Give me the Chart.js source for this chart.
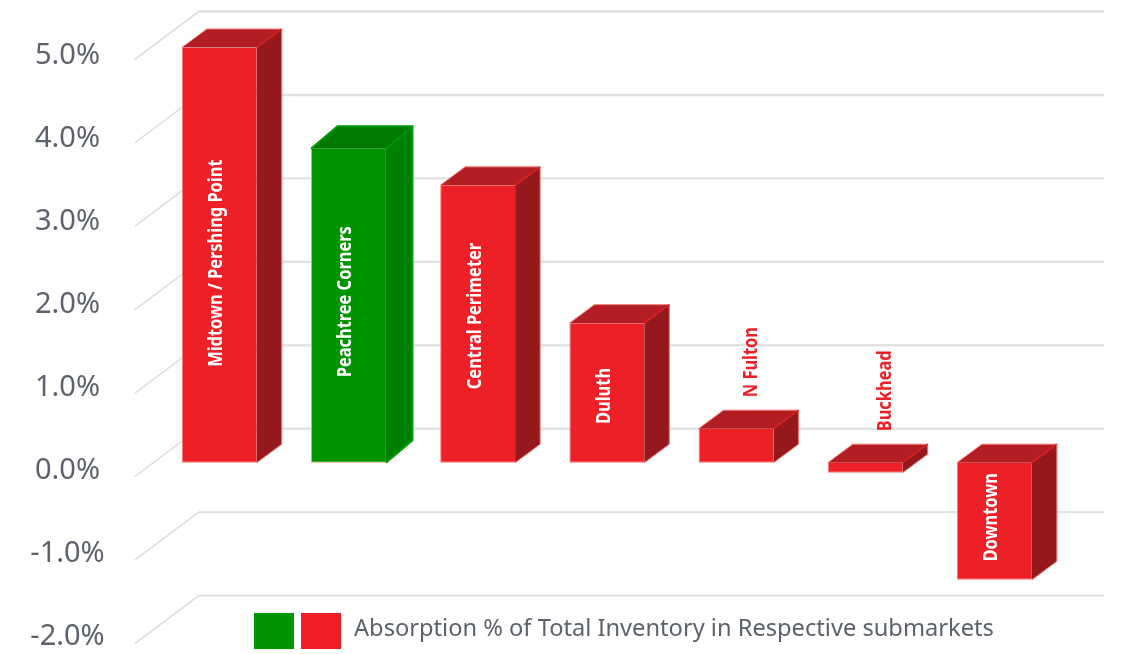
<!DOCTYPE html>
<html>
<head>
<meta charset="utf-8">
<title>Absorption by submarket</title>
<script src="https://cdn.jsdelivr.net/npm/chart.js@4/dist/chart.umd.min.js"></script>
<style>
  html, body { margin: 0; padding: 0; background: #fff; }
  canvas { display: block; }
</style>
</head>
<body>
<canvas id="absorption-chart" width="1121" height="654"></canvas>
<script>
/* ===== DATA ===== */
const submarkets = ['Midtown / Pershing Point', 'Peachtree Corners', 'Central Perimeter', 'Duluth', 'N Fulton', 'Buckhead', 'Downtown'];
const absorption = [5.0, 3.78, 3.34, 1.68, 0.41, -0.12, -1.41];
const highlighted = ['Peachtree Corners'];
const legendText = 'Absorption % of Total Inventory in Respective submarkets';

/* ===== LOOK ===== */
// depth is how far the top and side faces reach back from the front face
const RED = { front: '#ed2027', top: '#b21e24', side: '#95191c', edge: '#f47a72', ridge: '#dd2022', dx: 25, dy: 18.5 };
const GREEN = { front: '#009400', top: '#007a00', side: '#008000', edge: '#e8a070', ridge: '#009a00', rim: '#009a00', dx: 26.5, dy: 22.5 };
const GRID = '#e2e2e2';
const TEXT = '#5c616b';
const FONT = '"Noto Sans", sans-serif';

const paletteFor = i => highlighted.includes(submarkets[i]) ? GREEN : RED;

/* ===== BACK WALL GRID ===== */
const wallGrid = {
  id: 'wallGrid',
  beforeDatasetsDraw(chart) {
    const { ctx, chartArea, scales: { y } } = chart;
    const x0 = chartArea.left - 20, x1 = chartArea.left + 44, x2 = chartArea.right + 45;
    ctx.save();
    y.ticks.forEach(t => {
      // the wall sits slightly further apart than the bar plane
      const py = chartArea.top + (y.getPixelForValue(t.value) - chartArea.top) * 1.0048;
      ctx.strokeStyle = '#dedede';
      ctx.lineWidth = 1.6;
      ctx.beginPath();
      ctx.moveTo(x0, py + 12);
      ctx.lineTo(x1, py - 36);
      ctx.stroke();
      ctx.strokeStyle = GRID;
      ctx.lineWidth = 2.4;
      ctx.beginPath();
      ctx.moveTo(x1, py - 36);
      ctx.lineTo(x2, py - 36);
      ctx.stroke();
    });
    ctx.restore();
  }
};

/* ===== 3D FACES ===== */
const barFaces = {
  id: 'barFaces',
  afterDatasetsDraw(chart) {
    const { ctx } = chart;
    ctx.save();
    chart.getDatasetMeta(0).data.forEach((bar, i) => {
      const p = bar.getProps(['x', 'y', 'base', 'width'], true);
      const c = paletteFor(i);
      const l = p.x - p.width / 2, r = p.x + p.width / 2;
      const t = Math.min(p.y, p.base), b = Math.max(p.y, p.base);

      // top face
      ctx.fillStyle = c.top;
      ctx.beginPath();
      ctx.moveTo(l, t);
      ctx.lineTo(l + c.dx, t - c.dy);
      ctx.lineTo(r + c.dx, t - c.dy);
      ctx.lineTo(r, t);
      ctx.closePath();
      ctx.fill();

      // side face
      ctx.fillStyle = c.side;
      ctx.beginPath();
      ctx.moveTo(r, t);
      ctx.lineTo(r + c.dx, t - c.dy);
      ctx.lineTo(r + c.dx, b - c.dy);
      ctx.lineTo(r, b);
      ctx.closePath();
      ctx.fill();

      // pale rim round the outside of the block
      ctx.strokeStyle = c.rim || c.edge;
      ctx.lineWidth = c.rim ? 2 : 1;
      ctx.beginPath();
      ctx.moveTo(l, t);
      ctx.lineTo(l + c.dx, t - c.dy);
      ctx.lineTo(r + c.dx, t - c.dy);
      ctx.lineTo(r + c.dx, b - c.dy);
      ctx.lineTo(r, b);
      ctx.stroke();

      // bright crease between top and side
      ctx.strokeStyle = c.ridge;
      ctx.lineWidth = 1.5;
      ctx.beginPath();
      ctx.moveTo(r, t);
      ctx.lineTo(r + c.dx, t - c.dy);
      ctx.stroke();
    });
    ctx.restore();
  }
};

/* ===== VERTICAL BAR LABELS ===== */
const barLabels = {
  id: 'barLabels',
  afterDatasetsDraw(chart, args, opts) {
    const { ctx } = chart;
    chart.getDatasetMeta(0).data.forEach((bar, i) => {
      const p = bar.getProps(['x', 'y', 'base'], true);
      const t = Math.min(p.y, p.base), b = Math.max(p.y, p.base);
      const name = submarkets[i];
      ctx.save();
      ctx.font = 'bold 20px ' + FONT;
      const w = ctx.measureText(name).width * opts.squeeze;
      const inside = b - t > w;
      // short bars carry their label above the top face
      const cy = inside ? (t + b) / 2 + opts.nudgeY[i] : t - paletteFor(i).dy - 13 - w / 2;
      ctx.translate(p.x + opts.nudgeX[i], cy);
      ctx.rotate(-Math.PI / 2);
      ctx.scale(opts.squeeze, 1);
      ctx.fillStyle = inside ? '#fff' : RED.front;
      ctx.textAlign = 'center';
      ctx.textBaseline = 'alphabetic';
      ctx.fillText(name, 0, 0);
      ctx.restore();
    });
  }
};

/* ===== LEGEND ===== */
const legendRow = {
  id: 'legendRow',
  afterDraw(chart) {
    const { ctx } = chart;
    ctx.save();
    ctx.fillStyle = GREEN.front;
    ctx.fillRect(254, 613, 40, 36);
    ctx.fillStyle = '#f01e27';
    ctx.fillRect(301, 613, 40, 36);
    ctx.fillStyle = TEXT;
    ctx.font = '23.65px ' + FONT;
    ctx.textBaseline = 'alphabetic';
    ctx.fillText(legendText, 354, 636);
    ctx.restore();
  }
};

new Chart(document.getElementById('absorption-chart'), {
  type: 'bar',
  data: {
    labels: submarkets,
    datasets: [{
      label: legendText,
      data: absorption,
      backgroundColor: submarkets.map((_, i) => paletteFor(i).front),
      borderColor: submarkets.map((_, i) => paletteFor(i).edge),
      borderWidth: { left: 1, bottom: 1, top: 0, right: 0 },
      borderSkipped: false,
      barPercentage: 0.58,
      categoryPercentage: 1
    }]
  },
  options: {
    responsive: false,
    animation: false,
    layout: { padding: { top: 47.5, bottom: 25.2, right: 62, left: 0 } },
    plugins: {
      legend: { display: false },
      tooltip: { enabled: false },
      barLabels: {
        squeeze: 0.82,
        nudgeX: [3, 3, 3, 3, 21, 26, 3],
        nudgeY: [8, -4, -8, 3, 0, 0, -4]
      }
    },
    scales: {
      x: { display: false },
      y: {
        min: -2,
        max: 5,
        // tick padding is only there to centre the labels, keep it out of the vertical fit
        afterFit: s => { s.width = 154.7; s.paddingTop = 0; s.paddingBottom = 0; },
        border: { display: false },
        grid: { display: false, drawTicks: false },
        ticks: {
          stepSize: 1,
          crossAlign: 'center',
          padding: 50,
          labelOffset: 8,
          color: TEXT,
          font: { family: '"Noto Sans", sans-serif', size: 29 },
          callback: v => v.toFixed(1) + '%'
        }
      }
    }
  },
  plugins: [wallGrid, barFaces, barLabels, legendRow]
});
</script>
</body>
</html>
